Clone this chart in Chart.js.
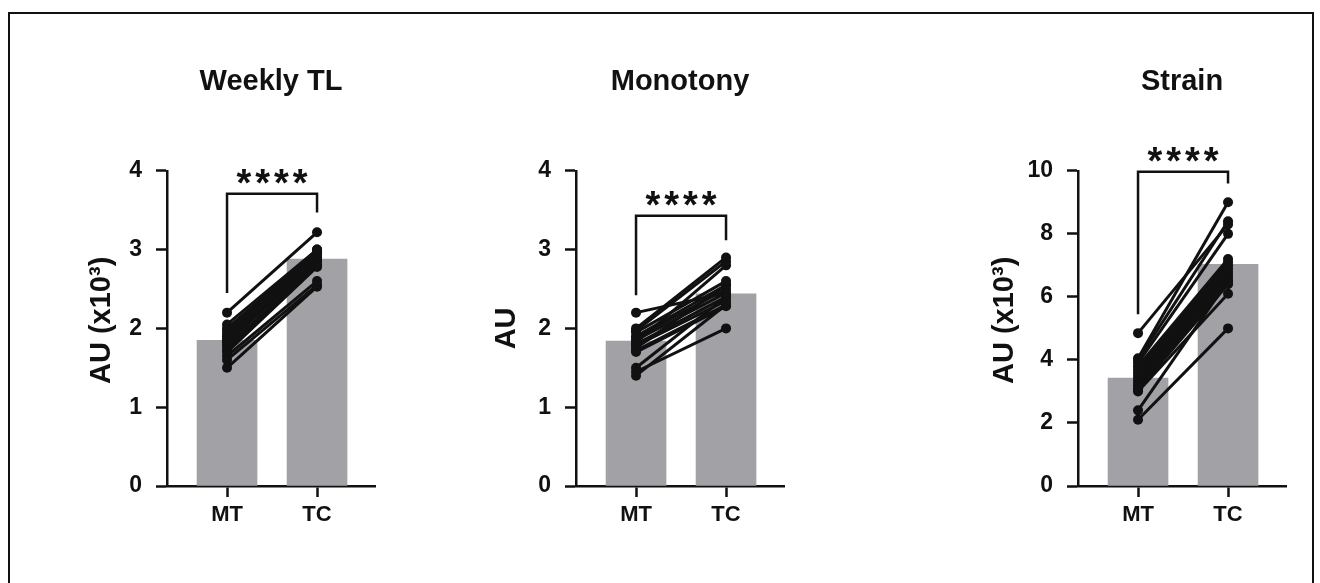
<!DOCTYPE html>
<html>
<head>
<meta charset="utf-8">
<script src="https://cdn.jsdelivr.net/npm/chart.js@4.4.0/dist/chart.umd.min.js"></script>
<style>
  html, body { margin: 0; padding: 0; background: #fff; }
  body { width: 1320px; height: 583px; position: relative; overflow: hidden; }
  #frame { position: absolute; left: 8px; top: 12px; width: 1302px; height: 620px; border: 2px solid #111; }
  .panel { position: absolute; top: 0; height: 583px; }
</style>
</head>
<body>
<div id="frame"></div>
<div class="panel" id="p1" style="left:85px;width:295px"><canvas id="c1"></canvas></div>
<div class="panel" id="p2" style="left:490px;width:299px"><canvas id="c2"></canvas></div>
<div class="panel" id="p3" style="left:988px;width:303px"><canvas id="c3"></canvas></div>
<script>
const groups = ['MT', 'TC'];

// weekly training load, AU x10^3 (one value per athlete, same order in MT and TC)
const weeklyMT = [2.2, 2.05, 2.0, 1.97, 1.93, 1.9, 1.88, 1.85, 1.82, 1.8, 1.77, 1.73, 1.7, 1.65, 1.6, 1.5];
const weeklyTC = [3.22, 3.0, 2.98, 2.95, 2.92, 3.0, 2.9, 2.88, 2.85, 2.95, 2.82, 2.8, 2.78, 2.6, 2.55, 2.53];
const weeklyMean = [1.85, 2.88];
const weeklyTicks = [0, 1, 2, 3, 4];

// monotony, AU
const monoMT = [2.2, 2.0, 1.97, 1.95, 1.9, 1.88, 1.85, 1.82, 1.8, 1.78, 1.75, 1.72, 1.7, 1.5, 1.45, 1.4];
const monoTC = [2.45, 2.9, 2.85, 2.6, 2.55, 2.5, 2.45, 2.8, 2.4, 2.35, 2.55, 2.3, 2.28, 2.4, 2.0, 2.3];
const monoMean = [1.84, 2.44];
const monoTicks = [0, 1, 2, 3, 4];

// strain, AU x10^3
const strainMT = [4.85, 4.05, 4.0, 3.9, 3.8, 3.7, 3.6, 3.5, 3.4, 3.3, 3.2, 3.1, 3.05, 3.0, 2.4, 2.1];
const strainTC = [8.3, 9.0, 8.4, 8.0, 7.2, 7.1, 7.0, 6.9, 6.8, 6.7, 6.6, 6.5, 6.4, 6.1, 6.5, 5.0];
const strainMean = [3.42, 7.03];
const strainTicks = [0, 2, 4, 6, 8, 10];

const FONT = '"Liberation Sans", Arial, sans-serif';
const INK = '#111';

const sigPlugin = {
  id: 'sig',
  afterDatasetsDraw(chart, args, opts) {
    const {ctx, scales: {x, y}} = chart;
    const x0 = x.getPixelForValue(0), x1 = x.getPixelForValue(1);
    const top = y.getPixelForValue(opts.top);
    ctx.save();
    ctx.strokeStyle = INK;
    ctx.lineWidth = 2.5;
    ctx.beginPath();
    ctx.moveTo(x0, y.getPixelForValue(opts.left));
    ctx.lineTo(x0, top);
    ctx.lineTo(x1, top);
    ctx.lineTo(x1, y.getPixelForValue(opts.right));
    ctx.stroke();
    ctx.fillStyle = INK;
    ctx.font = 'bold 38px ' + FONT;
    ctx.letterSpacing = '4px';
    ctx.textAlign = 'center';
    ctx.textBaseline = 'alphabetic';
    ctx.fillText('****', (x0 + x1) / 2 + 2, top + 2);
    ctx.restore();
  }
};

function makePanel(id, title, yTitle, ticks, mt, tc, means, bracket, yW) {
  const lines = mt.map((v, i) => ({
    type: 'line',
    data: [{x: 0, y: v}, {x: 1, y: tc[i]}],
    borderColor: INK,
    borderWidth: 3,
    pointRadius: 5,
    pointBackgroundColor: INK,
    pointBorderWidth: 0,
    order: 1
  }));
  new Chart(document.getElementById(id), {
    type: 'bar',
    data: {
      datasets: [{
        type: 'bar',
        data: means.map((v, i) => ({x: i, y: v})),
        backgroundColor: '#a2a2a6',
        barThickness: 60,
        order: 2
      }].concat(lines)
    },
    options: {
      responsive: true,
      maintainAspectRatio: false,
      animation: false,
      layout: {padding: 0},
      plugins: {
        legend: {display: false},
        tooltip: {enabled: false},
        title: {
          display: true,
          fullSize: false, // centred over the plot, not the whole canvas
          text: title,
          color: INK,
          font: {family: FONT, size: 29, weight: 'bold'},
          padding: {top: 65, bottom: 71}
        },
        sig: bracket
      },
      scales: {
        x: {
          type: 'linear',
          offset: false,
          min: -0.667,
          max: 1.644,
          afterBuildTicks: s => { s.ticks = groups.map((g, i) => ({value: i})); },
          afterFit: s => { s.height = 97; },
          ticks: {
            callback: v => groups[v],
            color: INK,
            padding: 5,
            font: {family: FONT, size: 22, weight: 'bold'}
          },
          grid: {offset: false, drawOnChartArea: false, tickLength: 11, tickWidth: 2.5, tickColor: INK},
          border: {color: INK, width: 2.5}
        },
        y: {
          min: ticks[0],
          max: ticks[ticks.length - 1],
          afterBuildTicks: s => { s.ticks = ticks.map(v => ({value: v})); },
          afterFit: s => { s.width = yW; },
          ticks: {
            color: INK,
            padding: 14,
            font: {family: FONT, size: 23, weight: 'bold'}
          },
          title: {
            display: true,
            text: yTitle,
            color: INK,
            padding: 0,
            font: {family: FONT, size: 29, weight: 'bold'}
          },
          grid: {drawOnChartArea: false, tickLength: 11, tickWidth: 2.5, tickColor: INK},
          border: {color: INK, width: 2.5}
        }
      }
    },
    plugins: [sigPlugin]
  });
}

makePanel('c1', 'Weekly TL', '  AU (x10³)', weeklyTicks, weeklyMT, weeklyTC, weeklyMean,
  {top: 3.71, left: 2.45, right: 3.47}, 82);
makePanel('c2', 'Monotony', 'AU', monoTicks, monoMT, monoTC, monoMean,
  {top: 3.43, left: 2.42, right: 3.12}, 86);
makePanel('c3', 'Strain', '  AU (x10³)', strainTicks, strainMT, strainTC, strainMean,
  {top: 9.97, left: 5.45, right: 9.6}, 90);
</script>
</body>
</html>
